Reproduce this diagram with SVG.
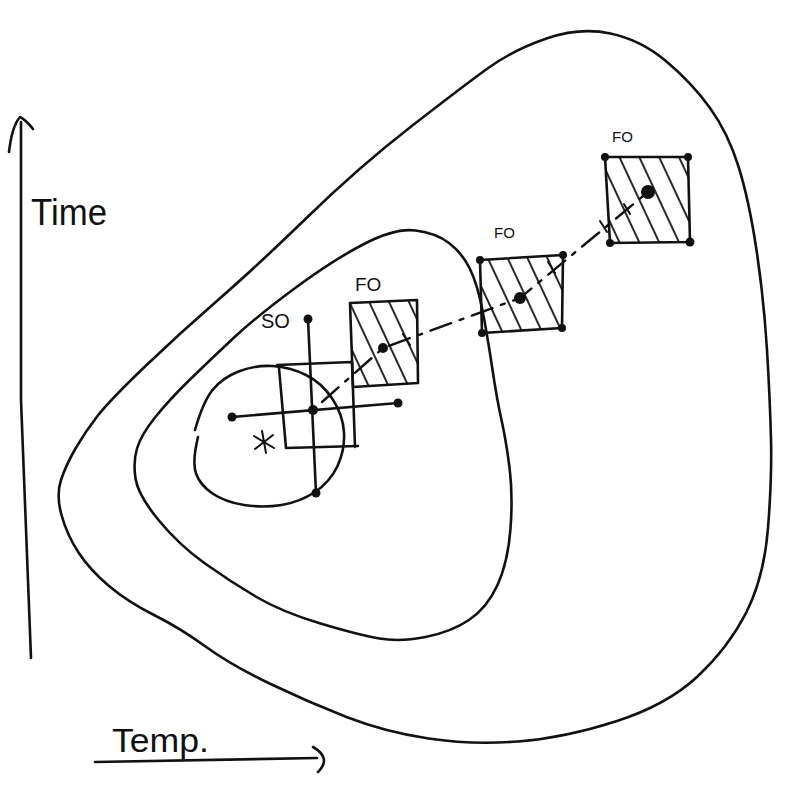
<svg xmlns="http://www.w3.org/2000/svg" width="801" height="795" viewBox="0 0 801 795">
<defs>
<pattern id="hatch" patternUnits="userSpaceOnUse" width="18" height="18" patternTransform="rotate(-25)">
<line x1="9" y1="0" x2="9" y2="18" stroke="#111" stroke-width="1.8"/>
</pattern>
</defs>
<style>
.ln{fill:none;stroke:#111;stroke-width:2.6;stroke-linecap:round;stroke-linejoin:round}
.th{fill:none;stroke:#111;stroke-width:2;stroke-linecap:round}
.dot{fill:#111}
.box{fill:url(#hatch);stroke:#111;stroke-width:2.6;stroke-linejoin:round}
.hw{font-family:"Liberation Sans","DejaVu Sans",sans-serif;fill:#111}
</style>
<rect width="801" height="795" fill="#fff"/>

<g id="axis-time">
<path class="ln" d="M21,122 L21,400 L31,658"/>
<path class="ln" d="M9,152 Q12,126 20,117 Q26,120 33,129"/>
<text class="hw" x="31" y="225" font-size="36" textLength="76" lengthAdjust="spacingAndGlyphs">Time</text>
</g>

<g id="axis-temp">
<path class="ln" d="M95,762 L317,758" stroke-width="3.2"/>
<path class="ln" d="M313,747 Q332,758 318,772"/>
<text class="hw" x="112" y="752" font-size="34" textLength="97" lengthAdjust="spacingAndGlyphs">Temp.</text>
</g>

<g id="outer-region">
<path class="ln" d="M61.5,515 Q56,495 61,480 Q66,465 75.5,448.5 Q85,432 97.5,416 Q110,400 145,366.5 Q180,333 218,300 Q256,267 307.5,217 Q359,167 410.5,127 Q462,87 487.5,68.5 Q513,50 546.5,38.5 Q580,27 610.5,33.5 Q641,40 666.5,61.5 Q692,83 710,108 Q728,133 738.5,166.5 Q749,200 756.5,250 Q764,300 767,350 Q770,400 771,439 Q772,478 768,528 Q764,578 746,613 Q728,648 697.5,676.5 Q667,705 615.5,721.5 Q564,738 518,741.5 Q472,745 428.5,738.5 Q385,732 346.5,717 Q308,702 269.5,683.5 Q231,665 205.5,646.5 Q180,628 154,615 Q128,602 109,586 Q90,570 78.5,552.5 Q67,535 61.5,515 Z"/>
</g>

<g id="middle-region">
<path class="ln" d="M135.5,478.5 Q133,462 137,448.5 Q141,435 155,417.5 Q169,400 189.5,380 Q210,360 233,338.5 Q256,317 294.5,288.5 Q333,260 364,244 Q395,228 415.5,230.5 Q436,233 449,243 Q462,253 469.5,268 Q477,283 482,308 Q487,333 492,366.5 Q497,400 501.5,420 Q506,440 509.5,467.5 Q513,495 510.5,528.5 Q508,562 497.5,585 Q487,608 469,620 Q451,632 425.5,637 Q400,642 379.5,638.5 Q359,635 320.5,623.5 Q282,612 256.5,597 Q231,582 205,563.5 Q179,545 158.5,520 Q138,495 135.5,478.5 Z"/>
</g>

<g id="inner-region">
<path class="ln" d="M198,437 Q192,462 196,473.5 Q200,485 212.5,493.5 Q225,502 244,505 Q263,508 281.5,505 Q300,502 315,492 Q330,482 337.5,466 Q345,450 344,432.5 Q343,415 332.5,399 Q322,383 306,375 Q290,367 272.5,366 Q255,365 238.5,371.5 Q222,378 212.5,390 Q203,402 195,430"/>
<path class="th" d="M262,431 L266,453 M254,436 L274,448 M255,449 L273,435"/>
</g>

<g id="SO">
<path class="ln" d="M277,365 L352,362 L355,447 M279,368 L286,448 L358,446"/>
<path class="ln" d="M308,319 L316,493 M232,417 L398,403"/>
<circle class="dot" cx="308" cy="319" r="4.5"/>
<circle class="dot" cx="316" cy="493" r="4.5"/>
<circle class="dot" cx="232" cy="417" r="4.5"/>
<circle class="dot" cx="398" cy="403" r="4.5"/>
<circle class="dot" cx="313" cy="410" r="5"/>
<text class="hw" x="261" y="328" font-size="20">SO</text>
</g>

<g id="FO-1">
<path class="box" d="M350,303 L417,300 L418,383 L353,387 Z"/>
<circle class="dot" cx="383" cy="348" r="5"/>
<text class="hw" x="355" y="291" font-size="19">FO</text>
</g>

<g id="FO-2">
<path class="box" d="M480,260 L563,255 L562,328 L482,333 Z"/>
<circle class="dot" cx="480" cy="260" r="4"/>
<circle class="dot" cx="563" cy="255" r="4"/>
<circle class="dot" cx="562" cy="328" r="4"/>
<circle class="dot" cx="482" cy="333" r="4"/>
<circle class="dot" cx="520" cy="298" r="6"/>
<text class="hw" x="494" y="238" font-size="15">FO</text>
</g>

<g id="FO-3">
<path class="box" d="M605,157 L688,157 L690,242 L610,243 Z"/>
<circle class="dot" cx="605" cy="157" r="4"/>
<circle class="dot" cx="688" cy="157" r="4"/>
<circle class="dot" cx="690" cy="242" r="4.5"/>
<circle class="dot" cx="610" cy="243" r="4"/>
<circle class="dot" cx="648" cy="192" r="7"/>
<text class="hw" x="612" y="142" font-size="15">FO</text>
</g>

<g id="connectors">
<path d="M322,402 L383,348 L520,298 L648,192" fill="none" stroke="#111" stroke-width="2.4" stroke-dasharray="22 9 4 9" stroke-linecap="round"/>
<path class="th" d="M403,334 L410,345 M548,262 L555,273 M600,221 L607,232 M624,204 L630,214"/>
</g>
</svg>
